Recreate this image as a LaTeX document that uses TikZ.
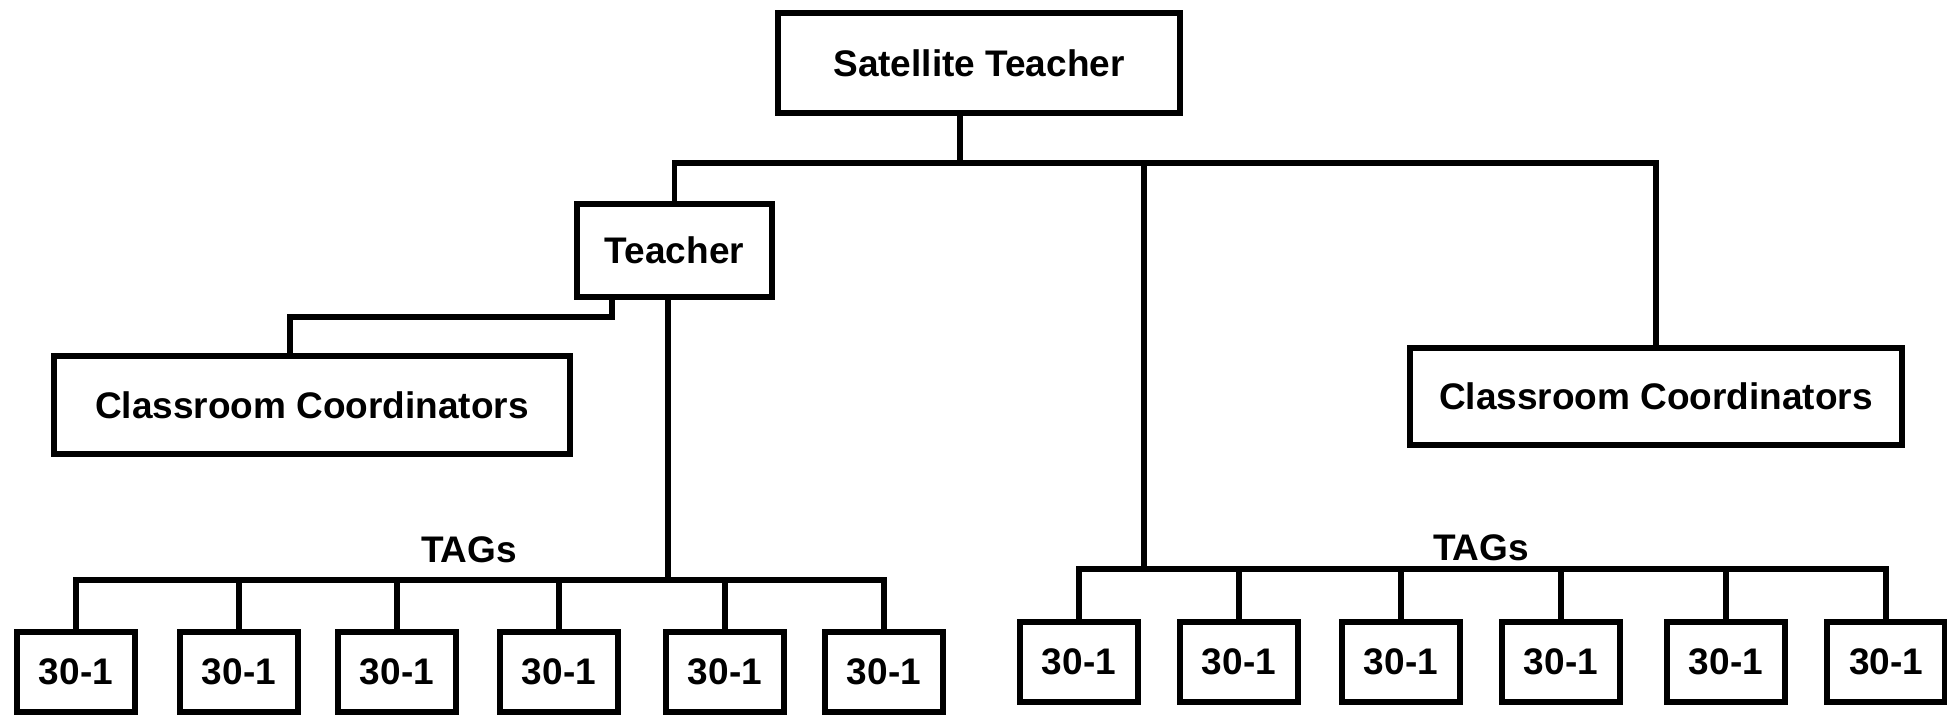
\documentclass[tikz,border=0pt]{standalone}
\usepackage{fontspec}
\setmainfont{Liberation Sans}
\begin{document}
\begin{tikzpicture}[x=0.5pt, y=-0.5pt, line width=2.6pt,
    box/.style={draw, rectangle, line width=3pt, inner sep=0pt, font=\fontsize{18.5}{20}\selectfont\bfseries},
    tagbox/.style={box, minimum width=59pt, minimum height=40pt},
    lbl/.style={font=\fontsize{18.5}{20}\selectfont\bfseries}]
        \useasboundingbox (0,0) rectangle (1947,715);

        \node[box, minimum width=201pt, minimum height=50pt] (S) at (979,63) {Satellite Teacher};
        \node[box, minimum width=97.5pt, minimum height=46.5pt] (T) at (674.5,250.5) {Teacher};
        \node[box, minimum width=258pt, minimum height=49pt] (C1) at (312,405) {Classroom Coordinators};
        \node[box, minimum width=246pt, minimum height=48.5pt] (C2) at (1656,396.5) {Classroom Coordinators};

        \foreach \x [count=\i] in {76,239,397,559,725,884}
            \node[tagbox] (L\i) at (\x,672) {30-1};
        \foreach \x [count=\i] in {1079,1239,1401,1561,1726,1886}
            \node[tagbox] (R\i) at (\x,662) {30-1};

        \node[lbl] (GL) at (469,550) {TAGs};
        \node[lbl] (GR) at (1481,548) {TAGs};

        \coordinate (top) at (960,163);
        \coordinate (mid) at (1144,163);
        \coordinate (bend) at (612,317);
        \coordinate (drop) at (290,317);
        \coordinate (busL) at (668,580);
        \coordinate (busR) at (1144,569);

        \draw (top |- S.south) -- (top);
        \draw (T.north) |- (top) -| (C2.north);
        \draw (mid) -- (busR);
        \draw (bend |- T.south) -- (bend) -- (drop) -- (drop |- C1.north);
        \draw (busL |- T.south) -- (busL);

        \draw (L1.north) |- (busL) -| (L6.north);
        \foreach \i in {2,...,5}
            \draw (L\i.north) -- (L\i.north |- busL);
        \draw (R1.north) |- (busR) -| (R6.north);
        \foreach \i in {2,...,5}
            \draw (R\i.north) -- (R\i.north |- busR);
    \end{tikzpicture}
\end{document}
